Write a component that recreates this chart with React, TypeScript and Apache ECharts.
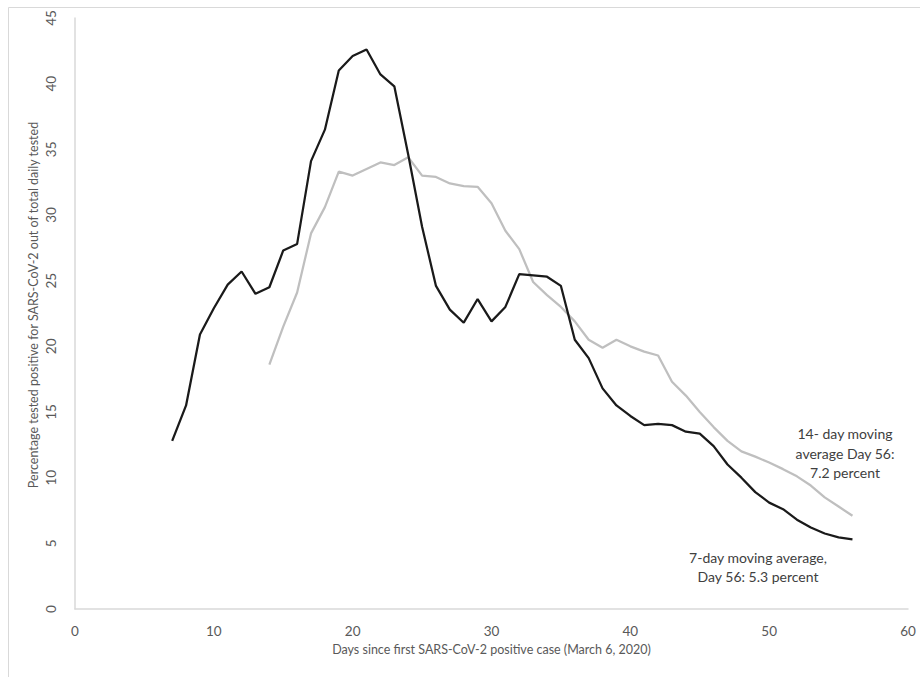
import React, { useEffect, useRef } from "react";
import * as echarts from "echarts";

const days7: number[] = [7, 8, 9, 10, 11, 12, 13, 14, 15, 16, 17, 18, 19, 20, 21, 22, 23, 24, 25, 26, 27, 28, 29, 30, 31, 32, 33, 34, 35, 36, 37, 38, 39, 40, 41, 42, 43, 44, 45, 46, 47, 48, 49, 50, 51, 52, 53, 54, 55, 56];
const avg7: number[] = [12.8, 15.5, 20.9, 22.9, 24.7, 25.7, 24.0, 24.5, 27.3, 27.8, 34.1, 36.5, 41.0, 42.1, 42.6, 40.7, 39.8, 34.6, 29.1, 24.6, 22.8, 21.8, 23.6, 21.9, 23.0, 25.5, 25.4, 25.3, 24.6, 20.5, 19.1, 16.8, 15.5, 14.7, 14.0, 14.1, 14.0, 13.5, 13.35, 12.4, 11.0, 10.0, 8.9, 8.1, 7.6, 6.8, 6.2, 5.75, 5.45, 5.3];

const days14: number[] = [14, 15, 16, 17, 18, 19, 20, 21, 22, 23, 24, 25, 26, 27, 28, 29, 30, 31, 32, 33, 34, 35, 36, 37, 38, 39, 40, 41, 42, 43, 44, 45, 46, 47, 48, 49, 50, 51, 52, 53, 54, 55, 56];
const avg14: number[] = [18.6, 21.5, 24.1, 28.6, 30.6, 33.3, 33.0, 33.5, 34.0, 33.8, 34.4, 33.0, 32.9, 32.4, 32.2, 32.15, 30.9, 28.8, 27.4, 24.9, 23.9, 23.0, 21.9, 20.5, 19.9, 20.5, 20.0, 19.6, 19.3, 17.3, 16.25, 15.0, 13.85, 12.8, 12.0, 11.6, 11.15, 10.65, 10.1, 9.4, 8.5, 7.8, 7.1];

const xTitle = "Days since first SARS-CoV-2 positive case (March 6, 2020)";
const yTitle = "Percentage tested positive for SARS-CoV-2 out of total daily tested";
const note14: string[] = ["14- day moving", "average Day 56:", "7.2 percent"];
const note7: string[] = ["7-day moving average,", "Day 56: 5.3 percent"];

const FONT = "Lato, 'Open Sans', sans-serif";

export default function App() {
  const ref = useRef<HTMLDivElement>(null);
  useEffect(() => {
    if (!ref.current) return;
    const chart = echarts.init(ref.current, null, { renderer: "svg" });
    chart.setOption({
      animation: false,
      backgroundColor: "#ffffff",
      textStyle: { fontFamily: FONT },
      grid: { left: 75, right: 12, top: 18, bottom: 68, containLabel: false },
      xAxis: {
        type: "value",
        min: 0,
        max: 60,
        interval: 10,
        name: xTitle,
        nameLocation: "middle",
        nameGap: 34,
        nameTextStyle: { color: "#595959", fontSize: 12.5, fontFamily: FONT },
        axisLine: { show: true, lineStyle: { color: "#d9d9d9", width: 1.5 } },
        axisTick: { show: false },
        splitLine: { show: false },
        axisLabel: { color: "#595959", fontSize: 13.5, margin: 15, fontFamily: FONT },
      },
      yAxis: {
        type: "value",
        min: 0,
        max: 45,
        interval: 5,
        axisLine: { show: true, lineStyle: { color: "#d9d9d9", width: 1.5 } },
        axisTick: { show: false },
        splitLine: { show: false },
        axisLabel: { color: "#595959", fontSize: 13.5, margin: 17, rotate: 90, fontFamily: FONT },
      },
      series: [
        {
          type: "line",
          name: "14-day moving average",
          data: days14.map((d, i) => [d, avg14[i]]),
          showSymbol: false,
          symbol: "none",
          lineStyle: { color: "#bfbfbf", width: 2.25 },
          z: 2,
        },
        {
          type: "line",
          name: "7-day moving average",
          data: days7.map((d, i) => [d, avg7[i]]),
          showSymbol: false,
          symbol: "none",
          lineStyle: { color: "#1a1a1a", width: 2.25 },
          z: 3,
        },
      ],
      graphic: [
        { type: "line", shape: { x1: 8.5, y1: 7.5, x2: 920, y2: 7.5 }, style: { stroke: "#d9d9d9", lineWidth: 1 }, silent: true },
        { type: "line", shape: { x1: 8.5, y1: 7.5, x2: 8.5, y2: 677 }, style: { stroke: "#d9d9d9", lineWidth: 1 }, silent: true },
        {
          type: "text",
          x: 33,
          y: 305,
          rotation: Math.PI / 2,
          style: {
            text: yTitle,
            fill: "#595959",
            font: `12.5px ${FONT}`,
            align: "center",
            verticalAlign: "middle",
          },
        },
        {
          type: "text",
          x: 845,
          y: 453,
          style: {
            text: note14.join("\n"),
            fill: "#404040",
            font: `14px ${FONT}`,
            align: "center",
            verticalAlign: "middle",
            lineHeight: 19.5,
          },
        },
        {
          type: "text",
          x: 758,
          y: 567,
          style: {
            text: note7.join("\n"),
            fill: "#404040",
            font: `14px ${FONT}`,
            align: "center",
            verticalAlign: "middle",
            lineHeight: 19.5,
          },
        },
      ],
    });
    return () => chart.dispose();
  }, []);
  return (
    <div
      ref={ref}
      style={{ position: "fixed", left: 0, top: 0, width: 920, height: 677, background: "#fff" }}
    />
  );
}
